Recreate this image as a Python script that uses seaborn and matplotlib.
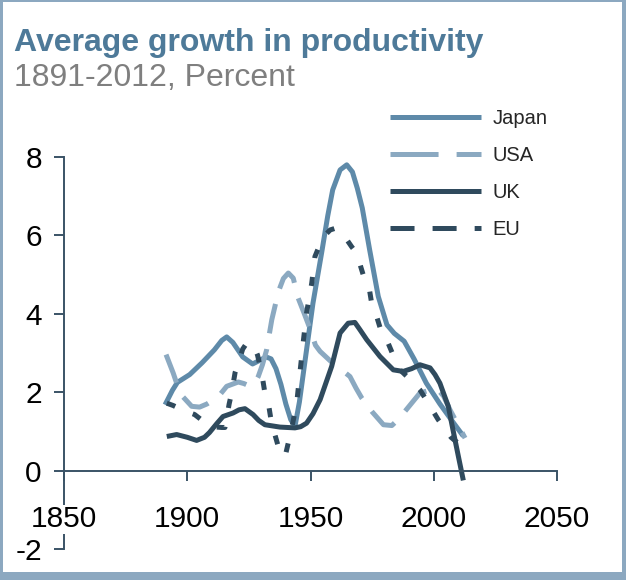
import matplotlib
matplotlib.use("Agg")
import matplotlib.pyplot as plt
from matplotlib.lines import Line2D
from matplotlib.patches import Rectangle
import pandas as pd
import seaborn as sns

# ---- data: productivity growth, percent ----
japan_years = [1891, 1894, 1896, 1901, 1906, 1911, 1914, 1916, 1918.5, 1922.5, 1926.5, 1929,
               1932, 1934, 1936, 1938, 1940, 1942, 1943.7, 1945.5, 1948, 1951, 1954.5, 1957,
               1959, 1962, 1964.7, 1967, 1969, 1971, 1974, 1977.5, 1981, 1984, 1988, 1992,
               1997, 2002.5, 2008, 2012]
japan_values = [1.68, 2.05, 2.25, 2.45, 2.75, 3.08, 3.32, 3.41, 3.27, 2.9, 2.72, 2.8,
                2.9, 2.85, 2.6, 2.2, 1.7, 1.3, 1.13, 1.75, 2.9, 4.27, 5.55, 6.5,
                7.16, 7.67, 7.8, 7.62, 7.2, 6.7, 5.63, 4.44, 3.72, 3.5, 3.3, 2.85,
                2.23, 1.7, 1.22, 0.88]

usa_years = [1891.4, 1893, 1894.3, 1895.7, 1898, 1901.8, 1905, 1908, 1911, 1913.3, 1916,
             1920.7, 1923, 1925.5, 1927.5, 1928.8, 1930.5, 1932.2, 1934.3, 1937, 1939,
             1941, 1943, 1945, 1947.5, 1949.8, 1952, 1953.9, 1958, 1962, 1966, 1968.5,
             1970.8, 1975, 1979.6, 1983, 1985.5, 1988.3, 1994.4, 2001.2, 2004, 2006.6, 2012.7]
usa_values = [2.96, 2.7, 2.49, 2.23, 1.9, 1.64, 1.62, 1.7, 1.82, 1.94, 2.15,
              2.26, 2.22, 2.15, 2.25, 2.4, 2.7, 3.08, 3.85, 4.57, 4.9,
              5.04, 4.91, 4.4, 4.0, 3.62, 3.2, 3.04, 2.8, 2.6, 2.4, 2.1,
              1.85, 1.5, 1.17, 1.15, 1.3, 1.51, 1.98, 2.1, 1.9, 1.55, 0.83]

uk_years = [1891.7, 1895.7, 1900, 1903.8, 1907, 1909, 1912, 1914.5, 1918.6, 1921, 1923.4,
            1926.7, 1929, 1931.5, 1937.6, 1943.7, 1946, 1948.4, 1951, 1953.9, 1958.6, 1962,
            1965.3, 1968, 1970, 1972.8, 1978.2, 1983.6, 1987.6, 1991, 1994.4, 1998.5,
            2000.5, 2002.5, 2005.9, 2007.8, 2010, 2012]
uk_values = [0.87, 0.92, 0.85, 0.77, 0.85, 0.97, 1.2, 1.38, 1.47, 1.55, 1.58,
             1.43, 1.28, 1.17, 1.11, 1.09, 1.12, 1.21, 1.45, 1.81, 2.66, 3.51,
             3.76, 3.78, 3.6, 3.34, 2.91, 2.57, 2.53, 2.6, 2.7, 2.62,
             2.45, 2.23, 1.64, 1.04, 0.36, -0.25]

eu_years = [1891.7, 1894.3, 1898, 1903, 1906.5, 1910, 1914, 1915.3, 1917, 1918, 1919.4,
            1920.7, 1922.5, 1924.1, 1926.8, 1928.5, 1930.2, 1931.5, 1932.9, 1934.3, 1935,
            1937, 1938.3, 1939.7, 1942.4, 1944.4, 1945.7, 1947, 1948.4, 1950.5, 1951.8,
            1955, 1958, 1960, 1963, 1966.7, 1968.7, 1971.4, 1973.5, 1974.8, 1976.2, 1978.9,
            1980.9, 1984.3, 1986.3, 1990, 1994.4, 1996.5, 2001.8, 2003.8, 2007, 2010.6, 2012]
eu_values = [1.72, 1.66, 1.55, 1.43, 1.26, 1.12, 1.1, 1.1, 1.7, 1.98, 2.5,
             2.74, 3.1, 3.25, 3.21, 2.95, 2.49, 1.98, 1.72, 1.17, 1.04,
             0.6, 0.45, 0.36, 1.09, 1.72, 2.49, 3.25, 4.02, 4.78, 5.46,
             5.95, 6.14, 6.18, 6.05, 5.71, 5.55, 4.99, 4.78, 4.27, 4.06, 3.51,
             3.34, 2.83, 2.57, 2.35, 2.06, 1.85, 1.3, 1.13, 0.85, 0.66, 0.62]

countries = ["Japan", "USA", "UK", "EU"]
x_ticks = [1850, 1900, 1950, 2000, 2050]
y_ticks = [-2, 0, 2, 4, 6, 8]

# ---- styling ----
BORDER = "#8ca8c0"
TITLE_COLOR = "#4e7a99"
SUB_COLOR = "#7f7f7f"
AXIS_COLOR = "#3a5366"
COLORS = {"Japan": "#5e8aa9", "USA": "#8ba9c1", "UK": "#2f4a5d", "EU": "#2f4a5d"}
LW = 3.6
# dash patterns in points (on, off) for the plot and for the legend samples
LINE_DASH = {"Japan": None, "USA": (21.6, 11.5), "UK": None, "EU": (6.5, 13.7)}
LEGEND_DASH = {"Japan": None, "USA": (34.6, 13.0), "UK": None, "EU": (17.3, 13.0)}

sns.set_theme(style="white")
plt.rcParams["font.family"] = ["Liberation Sans", "DejaVu Sans"]
plt.rcParams["lines.scale_dashes"] = False
plt.rcParams["axes.unicode_minus"] = False

frames = []
for name, yrs, vals in [("Japan", japan_years, japan_values), ("USA", usa_years, usa_values),
                        ("UK", uk_years, uk_values), ("EU", eu_years, eu_values)]:
    frames.append(pd.DataFrame({"year": yrs, "value": vals, "country": name}))
df = pd.concat(frames, ignore_index=True)

W, H = 626, 580
fig = plt.figure(figsize=(W / 100, H / 100), dpi=100, facecolor=BORDER)
fig.add_artist(Rectangle((3 / W, 8 / H), (W - 7) / W, (H - 10) / H,
                         transform=fig.transFigure, facecolor="white",
                         edgecolor="none", zorder=0))

ax = fig.add_axes([64 / W, 31 / H, 493 / W, 392 / H])
ax.patch.set_alpha(0)

for name in countries:
    sub = df[df["country"] == name]
    sns.lineplot(data=sub, x="year", y="value", ax=ax, color=COLORS[name],
                 linewidth=LW, estimator=None, sort=False, legend=False)
    line = ax.lines[-1]
    line.set_solid_capstyle("butt")
    line.set_dash_capstyle("butt")
    line.set_solid_joinstyle("round")
    if LINE_DASH[name] is not None:
        line.set_dashes(LINE_DASH[name])

ax.set_xlim(1850, 2050)
ax.set_ylim(-2, 8)
ax.set_xticks(x_ticks)
ax.set_yticks(y_ticks)
ax.set_xlabel("")
ax.set_ylabel("")

for side in ["top", "right"]:
    ax.spines[side].set_visible(False)
ax.spines["bottom"].set_position(("data", 0))
for side in ["left", "bottom"]:
    ax.spines[side].set_color(AXIS_COLOR)
    ax.spines[side].set_linewidth(1.4)

ax.tick_params(axis="both", direction="out", color=AXIS_COLOR, width=1.4,
               labelsize=21.5, labelcolor="black", bottom=True, left=True)
ax.tick_params(axis="x", length=7, pad=18)
ax.tick_params(axis="y", length=7, pad=9)
ax.xaxis.set_zorder(3)
for lbl in ax.get_xticklabels():
    lbl.set_bbox(dict(facecolor="white", edgecolor="none", pad=0.5))

# legend with its own sample dash patterns
handles = []
for name in countries:
    h = Line2D([], [], color=COLORS[name], linewidth=LW, solid_capstyle="butt",
               dash_capstyle="butt")
    if LEGEND_DASH[name] is not None:
        h.set_dashes(LEGEND_DASH[name])
    handles.append(h)
fig.legend(handles, countries, loc="upper left",
           bbox_to_anchor=(390 / W, 1 - 109 / H), frameon=False, fontsize=14.5,
           handlelength=4.5, handletextpad=0.58, labelspacing=0.9,
           borderpad=0, borderaxespad=0)

fig.text(14 / W, 1 - 51 / H, "Average growth in productivity", fontsize=23,
         fontweight="bold", color=TITLE_COLOR, va="baseline", ha="left")
fig.text(14 / W, 1 - 86 / H, "1891-2012, Percent", fontsize=23,
         color=SUB_COLOR, va="baseline", ha="left")

fig.savefig("out.png", dpi=100, facecolor=BORDER)
